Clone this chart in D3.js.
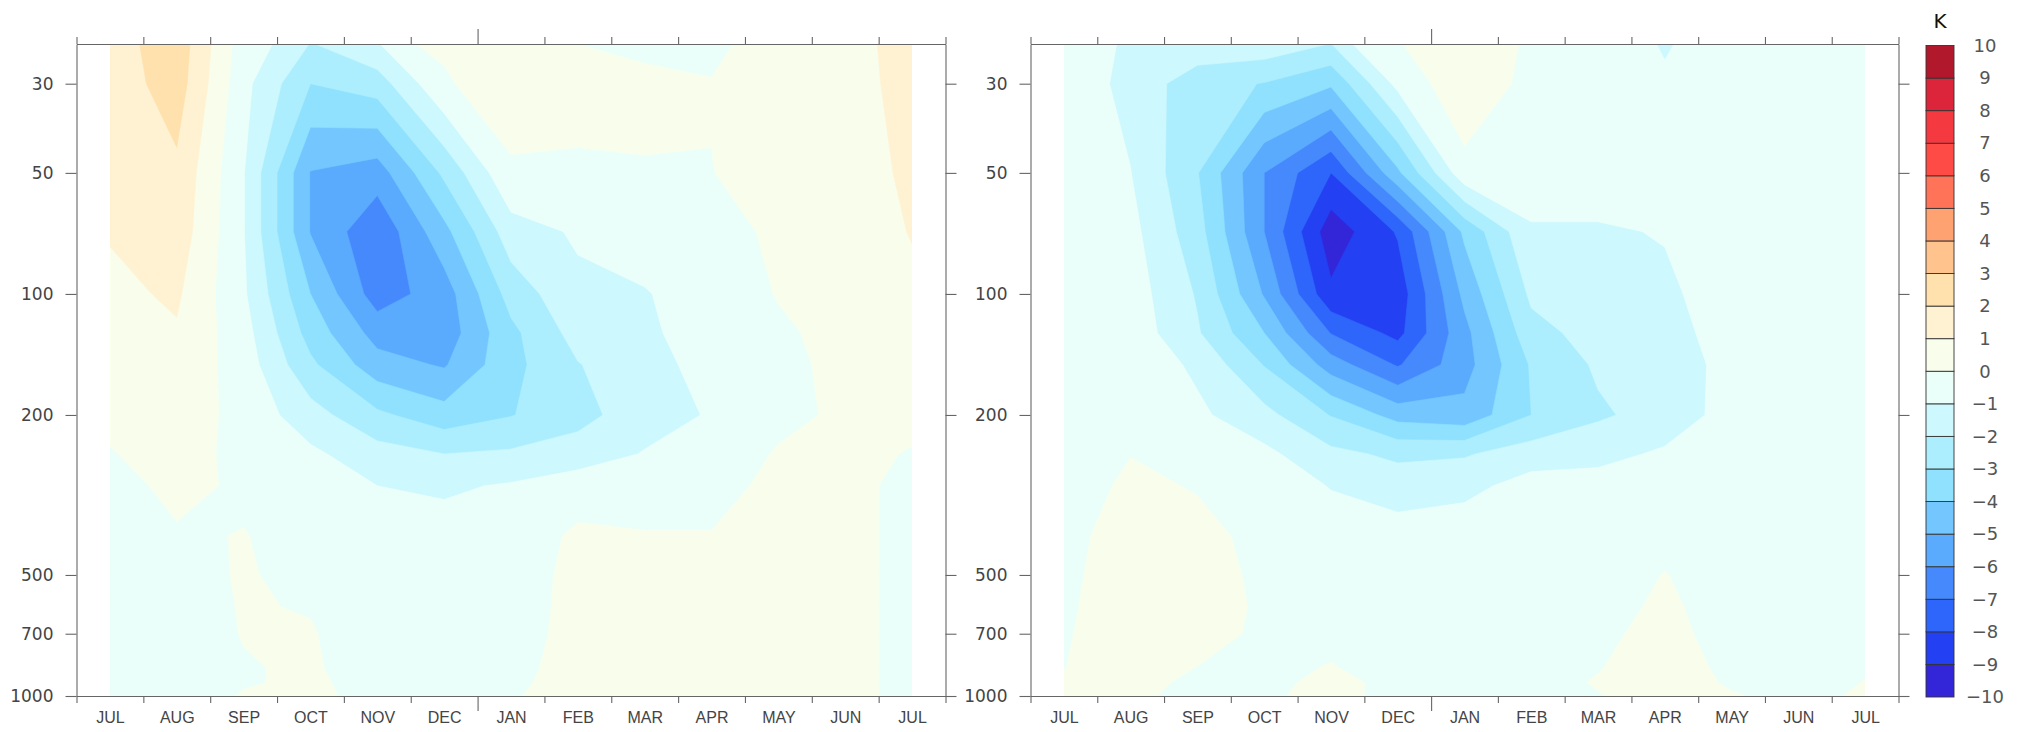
<!DOCTYPE html>
<html><head><meta charset="utf-8">
<script src="https://cdn.jsdelivr.net/npm/d3@7"></script>
<style>
body{margin:0;background:#fff;}
svg{display:block;}
.axis text{font-family:"DejaVu Sans",sans-serif;font-size:17px;fill:#444;}
.mon text{font-family:"Liberation Sans",Arial,sans-serif;font-size:16px;fill:#444;}
.axis path,.axis line{stroke:#666;stroke-width:1.1;}
</style>
</head><body>
<svg id="chart" width="2018" height="732"></svg>
<script>
// ---------- data ----------
const months = ["JUL","AUG","SEP","OCT","NOV","DEC","JAN","FEB","MAR","APR","MAY","JUN","JUL"];
const levels = [20,30,50,70,100,125,150,200,250,300,400,500,600,700,850,925,1000];
const pressureTicks = [30,50,100,200,500,700,1000];
const thresholds = d3.range(-10, 10);           // band lower bounds
const cbLabels = d3.range(-10, 11);             // colour bar labels
const bandColors = ["#3226D8","#2440F3","#2E66FB","#4689FD","#5AAAFE","#74C7FE","#8FE1FE","#ADEEFE","#CDF8FE","#EBFFFA",
                    "#F9FEEC","#FFF2D3","#FFE1AD","#FFC38E","#FFA272","#FF7459","#FE4B45","#F43A40","#DC253A","#B2182B"];

// left panel: rows = levels (20 hPa ... 1000 hPa), columns = months
const leftValues = [
 [ 1.6, 2.7,-0.4 ,-1.3 , 0.0 , 0.3 , 0.8 ,-0.2 ,-0.5 ,-0.5 , 0.3 , 0.6 , 1.5 ],
 [ 1.4, 2.5,-0.7 ,-3.0 ,-2.5 ,-0.1 , 0.5 , 0.25, 0.2 , 0.05, 0.4 , 0.55, 1.4 ],
 [ 1.3, 1.8,-0.95,-5.05,-5.5 ,-2.8 ,-0.13,-0.1 ,-0.05,-0.02, 0.35, 0.5 , 1.2 ],
 [ 1.08,1.6,-0.95,-5.05,-6.8 ,-4.3 ,-1.43,-0.88,-0.6 ,-0.4 , 0.2 , 0.45, 1.05],
 [ 0.75,1.15,-0.85,-4.0,-6.5 ,-5.5 ,-2.6 ,-1.2 ,-1.05,-0.6 , 0.05, 0.35, 0.8 ],
 [ 0.6, 0.9,-0.6 ,-3.4 ,-5.4 ,-5.6 ,-3.25,-1.6 ,-1.15,-0.6 ,-0.15, 0.3 , 0.6 ],
 [ 0.45,0.7,-0.45,-2.8 ,-4.6 ,-5.1 ,-3.3 ,-2.05,-1.3 ,-0.7 ,-0.3 , 0.3 , 0.5 ],
 [ 0.2, 0.5,-0.3 ,-1.6 ,-2.8 ,-3.6 ,-3.05,-2.3 ,-1.5 ,-0.9 ,-0.3 , 0.2 , 0.2 ],
 [-0.05,0.35,-0.25,-0.8,-1.6 ,-2.0 ,-1.85,-1.6 ,-0.93,-0.7 , 0.1 , 0.2 ,-0.05],
 [-0.35,0.25,-0.15,-0.5,-1.0 ,-1.15,-0.9 ,-0.4 ,-0.4 ,-0.4 , 0.3 , 0.3 ,-0.3 ],
 [-0.3,-0.1, 0.03,-0.32,-0.6 ,-0.6 ,-0.5 , 0.15, 0.05, 0.05, 0.3 , 0.3 ,-0.3 ],
 [-0.3,-0.3, 0.075,-0.24,-0.5,-0.4 ,-0.35, 0.2 , 0.2 , 0.2 , 0.3 , 0.3 ,-0.3 ],
 [-0.3,-0.35,0.05,-0.04,-0.45,-0.35,-0.3 , 0.2 , 0.2 , 0.2 , 0.3 , 0.3 ,-0.3 ],
 [-0.3,-0.35,0.03, 0.05,-0.4 ,-0.3 ,-0.25, 0.2 , 0.2 , 0.2 , 0.3 , 0.3 ,-0.3 ],
 [-0.3,-0.35,-0.05,0.1 ,-0.4 ,-0.25,-0.15, 0.2 , 0.2 , 0.2 , 0.3 , 0.3 ,-0.3 ],
 [-0.3,-0.3,-0.05, 0.1 ,-0.22,-0.2 ,-0.1 , 0.2 , 0.2 , 0.2 , 0.3 , 0.3 ,-0.3 ],
 [-0.3,-0.3, 0.045,0.1 ,-0.14,-0.15,-0.05, 0.25, 0.2 , 0.2 , 0.3 , 0.3 ,-0.3 ]
];

// right panel
const rightValues = [
 [-0.3 ,-1.1 ,-0.3 , 0.0 ,-0.6 , 0.35, 0.9 ,-0.1 ,-0.3 ,-1.4 ,-0.4 ,-0.3 ,-0.25],
 [-0.35,-1.3 ,-2.6 ,-3.05,-3.85,-0.7 , 0.7 ,-0.3 ,-0.35,-0.8 ,-0.4 ,-0.3 ,-0.25],
 [-0.4 ,-0.98,-2.95,-6.0 ,-8.0 ,-4.2 ,-0.3 ,-0.5 ,-0.5 ,-0.6 ,-0.4 ,-0.3 ,-0.3 ],
 [-0.5 ,-0.7 ,-2.6 ,-6.0 ,-9.6 ,-7.9 ,-3.8 ,-1.1 ,-1.1 ,-0.95,-0.5 ,-0.3 ,-0.3 ],
 [-0.5 ,-0.5 ,-2.1 ,-5.1 ,-8.8 ,-8.6 ,-4.75,-1.8 ,-1.4 ,-1.15,-0.6 ,-0.25,-0.3 ],
 [-0.5 ,-0.4 ,-1.9 ,-4.0 ,-7.05,-8.3 ,-5.3 ,-2.35,-1.6 ,-1.3 ,-0.65,-0.3 ,-0.3 ],
 [-0.5 ,-0.3 ,-1.2 ,-3.05,-5.5 ,-7.1 ,-5.4 ,-2.9 ,-1.85,-1.5 ,-0.7 ,-0.35,-0.3 ],
 [-0.5 ,-0.15,-0.8 ,-1.7 ,-3.05,-4.4 ,-4.7 ,-3.0 ,-2.15,-1.6 ,-0.6 ,-0.35,-0.3 ],
 [-0.45,-0.02,-0.4 ,-0.75,-1.75,-2.2 ,-2.1 ,-1.5 ,-1.3 ,-0.85,-0.4 ,-0.3 ,-0.3 ],
 [-0.4 , 0.15,-0.05,-0.4 ,-1.05,-1.5 ,-1.3 ,-0.6 ,-0.6 ,-0.5 ,-0.3 ,-0.25,-0.3 ],
 [-0.2 , 0.3 , 0.2 ,-0.2 ,-0.5 ,-0.55,-0.4 ,-0.35,-0.35,-0.2 ,-0.3 ,-0.25,-0.3 ],
 [-0.15, 0.35, 0.3 ,-0.15,-0.3 ,-0.35,-0.3 ,-0.3 ,-0.3 , 0.02,-0.3 ,-0.2 ,-0.25],
 [-0.1 , 0.35, 0.3 ,-0.1 ,-0.2 ,-0.25,-0.25,-0.3 ,-0.2 , 0.1 ,-0.25,-0.2 ,-0.2 ],
 [-0.05, 0.3 , 0.2 ,-0.1 ,-0.1 ,-0.2 ,-0.2 ,-0.25,-0.1 , 0.15,-0.2 ,-0.2 ,-0.15],
 [-0.01, 0.25,-0.01,-0.1 , 0.02,-0.15,-0.15,-0.2 ,-0.02, 0.2 ,-0.1 ,-0.2 ,-0.03],
 [ 0.05, 0.15,-0.1 ,-0.1 , 0.1 ,-0.1 ,-0.1 ,-0.15, 0.03, 0.2 ,-0.05,-0.15, 0.01],
 [ 0.1 , 0.1 ,-0.15,-0.05, 0.1 ,-0.1 ,-0.05,-0.1 ,-0.02, 0.15, 0.03,-0.1 , 0.05]
];

// ---------- drawing ----------
const svg = d3.select("#chart");
const yTop = 44, yBottom = 696;
const pTop = 23.9;

function drawPanel(values, x0, x1, idx) {
  const nx = months.length, ny = levels.length;
  const xScale = d3.scaleLinear().domain([-0.5, nx - 0.5]).range([x0, x1]);
  const yScale = d3.scaleLog().domain([1000, pTop]).range([yBottom, yTop]);
  const g = svg.append("g");
  const clipId = "clip" + idx;
  const dx0 = xScale(0), dx1 = xScale(nx - 1);
  svg.append("defs").append("clipPath").attr("id", clipId)
    .append("rect").attr("x", dx0).attr("y", yTop).attr("width", dx1 - dx0).attr("height", yBottom - yTop);

  const flat = [];
  values.forEach(row => row.forEach(v => flat.push(v)));
  const contours = d3.contours().size([nx, ny]).thresholds(thresholds)(flat);

  const X = c => xScale(Math.max(0, Math.min(nx - 1, c - 0.5)));
  const Y = c => {
    const r = Math.max(0, Math.min(ny - 1, c - 0.5));
    const j0 = Math.floor(r), j1 = Math.min(ny - 1, j0 + 1), t = r - j0;
    const lp = Math.log10(levels[j0]) + t * (Math.log10(levels[j1]) - Math.log10(levels[j0]));
    return yScale(Math.pow(10, lp));
  };
  const proj = d3.geoTransform({ point: function(x, y) { this.stream.point(X(x), Y(y)); } });
  const path = d3.geoPath(proj);

  g.append("g").attr("clip-path", `url(#${clipId})`)
    .selectAll("path").data(contours).join("path")
    .attr("d", path)
    .attr("fill", d => bandColors[d.value + 10])
    .attr("stroke", d => bandColors[d.value + 10])
    .attr("stroke-width", 0.6);

  // axes
  const bounds = d3.range(-0.5, nx, 1);
  const bAx = g.append("g").attr("class", "axis").attr("transform", `translate(0,${yBottom})`)
    .call(d3.axisBottom(xScale).tickValues(bounds).tickSize(7).tickSizeOuter(0).tickFormat(""));
  bAx.selectAll(".tick line").filter(d => d === 5.5).attr("y2", 15);
  const tAx = g.append("g").attr("class", "axis").attr("transform", `translate(0,${yTop})`)
    .call(d3.axisTop(xScale).tickValues(bounds).tickSize(7).tickSizeOuter(0).tickFormat(""));
  tAx.selectAll(".tick line").filter(d => d === 5.5).attr("y2", -15);
  const mAx = g.append("g").attr("class", "axis mon").attr("transform", `translate(0,${yBottom})`)
    .call(d3.axisBottom(xScale).tickValues(d3.range(0, nx)).tickSize(0).tickPadding(16).tickFormat(i => months[i]));
  mAx.select(".domain").remove();

  g.append("g").attr("class", "axis").attr("transform", `translate(${x0},0)`)
    .call(d3.axisLeft(yScale).tickValues(pressureTicks).tickSize(11).tickSizeOuter(0).tickPadding(12).tickFormat(d3.format("d")));
  g.append("g").attr("class", "axis").attr("transform", `translate(${x1},0)`)
    .call(d3.axisRight(yScale).tickValues(pressureTicks).tickSize(11).tickSizeOuter(0).tickFormat(""));
}

drawPanel(leftValues, 76.5, 945.5, 0);
drawPanel(rightValues, 1030.5, 1898.5, 1);

// colour bar
const cbX = 1926, cbW = 28, cbTop = 45.5, cbBot = 697;
const cb = d3.scaleLinear().domain([-10, 10]).range([cbBot, cbTop]);
const cbg = svg.append("g");
cbg.selectAll("rect").data(thresholds).join("rect")
  .attr("x", cbX).attr("width", cbW)
  .attr("y", d => cb(d + 1)).attr("height", d => cb(d) - cb(d + 1))
  .attr("fill", d => bandColors[d + 10])
  .attr("stroke", "#333").attr("stroke-width", 0.9);
const cbAx = cbg.append("g").attr("class", "axis").attr("transform", `translate(${cbX + cbW},0)`)
  .call(d3.axisRight(cb).tickValues(cbLabels).tickSize(0).tickPadding(31)
        .tickFormat(d => d < 0 ? "\u2212" + (-d) : String(d)));
cbAx.select(".domain").remove();
cbAx.selectAll("text").attr("text-anchor", "middle").style("font-size", "18px").style("fill", "#555");
svg.append("text").attr("x", 1940).attr("y", 28).attr("text-anchor", "middle")
  .style("font-family", "DejaVu Sans, sans-serif").style("font-size", "20px").style("fill", "#111")
  .text("K");
</script>
</body></html>
